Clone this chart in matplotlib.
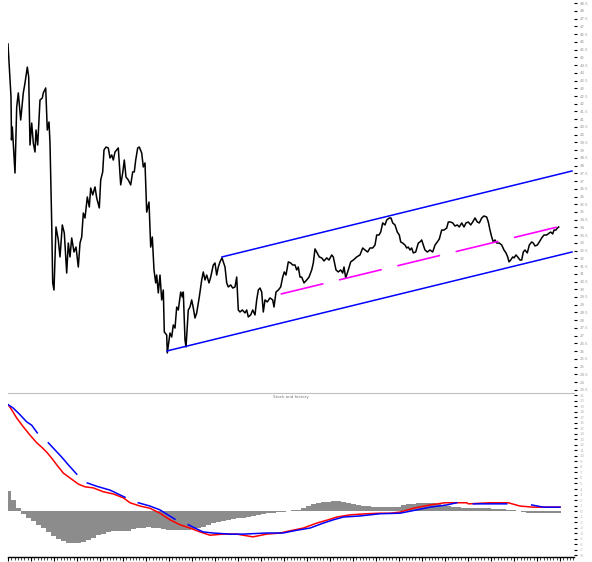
import numpy as np
import matplotlib.pyplot as plt
from matplotlib.ticker import MultipleLocator, FormatStrFormatter, NullFormatter

# Price series (trading day index, close)
price_day = [0, 3, 3.5, 4.3, 7, 8.7, 10.3, 12.7, 15.3, 17, 19.3, 20.7, 22, 23.7, 25.3, 27, 28, 29.7,
             32, 34.3, 35.3, 37.7, 39.3, 41, 42, 43.7, 44.7, 46, 48, 50.3, 52, 54.3, 56.3, 58.7, 60.3,
             62, 63.7, 66, 68, 70.3, 72, 73.7, 75.3, 77, 79.3, 81.3, 82.7, 84.7, 87, 88.7, 91.3, 92.7,
             94.7, 96, 98, 100.3, 102, 103.7, 105.3, 107, 108.7, 110.3, 112.7, 114.7, 116.3, 118,
             120.3, 122.7, 124.7, 126.3, 127.7, 129.7, 131.3, 133.7, 135.3, 137, 138.7, 141, 142.7,
             144.3, 146, 147.7, 148.7, 150.3, 152, 153.7, 155.3, 156.3, 158.7, 159.3, 162, 163.7,
             165.3, 167, 168.7, 170.3, 172.7, 174.3, 175.3, 177, 178, 180.3, 182, 183.7, 185.3, 187,
             188.7, 191.3, 193.7, 195.3, 197, 198.7, 201, 202.7, 205.3, 207, 208.7, 210.3, 212, 214,
             215.3, 217, 218.7, 220.3, 222.7, 224.7, 227, 228.7, 230.3, 232, 234.3, 237, 238.7, 240.3,
             242.7, 244.7, 247, 248.7, 250.3, 252, 253.7, 255.3, 257, 259.3, 262, 264.7, 266, 268,
             270.3, 272.7, 274.7, 276.3, 278, 280.3, 282.7, 284.7, 287, 288.7, 290.3, 292, 293.7, 296,
             298.7, 301, 303.7, 305.3, 307, 308.7, 311.3, 313.7, 316, 318.7, 321, 323.7, 325.3, 328,
             330.3, 332.7, 334.7, 336, 337.7, 340.3, 342.7, 345.3, 348.7, 352, 354.7, 357, 359.7, 362,
             364.7, 367, 368.7, 371, 372.7, 374.7, 377, 378.7, 381.3, 383, 384.7, 387, 389.3, 391.3,
             392.7, 394.7, 397, 398.7, 400.3, 402, 403.7, 405.3, 407.7, 410.3, 412, 413.7, 415.3, 417,
             419.3, 422, 424.7, 427, 429.3, 431.3, 433.7, 436, 438.7, 440.3, 442.7, 444.7, 447, 449.3,
             451.3, 453.7, 456, 458, 460.3, 462.7, 464.7, 467, 469.3, 471.3, 473.7, 476, 478.7, 480.3,
             482, 483.7, 485.3, 487, 488.7, 491.3, 493.7, 496, 498, 499.7, 501, 502.7, 504.7, 506, 508,
             509.7, 512, 513.7, 515.3, 517, 519.3, 521.3, 523.7, 525.3, 527, 529.3, 531.3, 533.7, 536,
             538.7, 541.3, 542.7, 544.7, 546, 548, 549.3, 550.7]
price_val = [45.87, 42.44, 39.66, 40.50, 37.52, 41.79, 42.70, 40.95, 42.70, 43.34, 44.37, 43.73, 39.33,
             40.75, 39.46, 38.88, 40.30, 39.33, 42.24, 42.37, 42.70, 43.02, 40.30, 40.82, 39.46, 34.29,
             30.41, 29.95, 34.03, 33.19, 32.09, 34.16, 33.64, 31.05, 32.99, 32.09, 33.32, 32.41, 32.73,
             31.44, 32.99, 33.38, 34.93, 34.61, 35.97, 35.32, 36.55, 36.10, 36.62, 35.90, 35.26, 37.07,
             37.59, 39.01, 39.20, 39.14, 38.49, 38.69, 38.36, 38.88, 39.01, 39.14, 36.75, 37.52, 38.36,
             37.26, 37.07, 36.75, 37.59, 37.59, 38.36, 39.14, 39.20, 38.81, 37.91, 38.17, 34.99, 35.64,
             32.73, 33.38, 31.25, 30.41, 30.92, 29.76, 30.92, 29.31, 29.95, 27.24, 27.04, 25.88, 27.17,
             26.91, 27.69, 27.49, 28.85, 28.66, 29.82, 29.50, 29.82, 26.72, 26.27, 28.66, 28.85, 29.31,
             28.79, 28.14, 28.47, 29.50, 30.60, 31.12, 30.60, 30.92, 30.41, 30.79, 31.57, 31.70, 30.92,
             31.44, 31.77, 32.03, 31.77, 31.44, 30.41, 30.15, 30.28, 30.08, 30.15, 30.79, 28.66, 28.53,
             28.66, 28.47, 28.66, 28.21, 28.34, 28.66, 28.34, 29.31, 29.95, 30.08, 29.82, 28.53, 29.31,
             29.18, 29.44, 29.31, 28.85, 29.82, 29.95, 30.15, 30.79, 31.12, 30.92, 31.77, 31.70, 31.57,
             31.57, 31.25, 31.44, 30.79, 30.79, 30.41, 30.60, 30.79, 31.25, 31.70, 32.61, 32.41, 32.09,
             32.03, 31.83, 32.03, 31.89, 32.22, 32.09, 31.25, 31.12, 31.25, 31.05, 31.44, 30.73, 31.25,
             31.77, 31.89, 32.09, 32.22, 32.67, 32.54, 32.41, 32.67, 32.67, 32.86, 33.51, 33.51, 33.70,
             34.29, 34.16, 34.48, 34.61, 34.61, 34.29, 34.16, 33.70, 33.51, 33.06, 32.99, 32.86, 32.67,
             32.73, 32.54, 32.67, 32.35, 32.41, 32.99, 33.06, 33.19, 32.86, 32.54, 32.41, 32.54, 32.41,
             32.86, 33.06, 33.25, 33.83, 33.83, 33.96, 34.35, 34.35, 34.29, 34.09, 34.16, 34.03, 34.29,
             34.03, 34.29, 34.35, 34.16, 34.35, 34.61, 34.35, 34.29, 34.61, 34.74, 34.67, 34.35, 33.83,
             33.38, 33.06, 33.19, 32.99, 32.99, 32.86, 32.54, 32.35, 32.09, 31.77, 31.89, 32.09, 32.03,
             32.22, 32.09, 31.89, 31.89, 32.41, 32.54, 32.35, 32.86, 33.06, 32.99, 32.80, 32.86, 33.06,
             33.32, 33.51, 33.51, 33.64, 33.70, 33.58, 33.83, 33.83, 33.96, 34.03]

# Trend channel and mid line (day, price)
lower_chan_day = [159, 564]
lower_chan_val = [26.01, 32.41]
upper_chan_day = [214, 564]
upper_chan_val = [32.09, 37.65]
mid_day = [272.7, 554.7]
mid_val = [29.69, 34.11]

# Oscillator histogram
hist_day = list(range(0, 553, 5))
hist_val = [3.6, 2.0, 0.5, -0.5, -1.3, -1.8, -2.5, -3.1, -3.8, -4.5, -5.1, -5.5, -5.8, -5.8, -5.8,
            -5.6, -5.3, -4.9, -4.4, -4.2, -3.8, -3.6, -3.6, -3.6, -3.6, -3.3, -3.1, -3.0, -2.9, -3.0,
            -3.1, -3.3, -3.5, -3.5, -3.5, -3.5, -3.4, -3.3, -3.1, -2.9, -2.5, -2.2, -2.0, -1.8, -1.6,
            -1.4, -1.3, -1.2, -1.1, -0.9, -0.7, -0.5, -0.4, -0.3, -0.2, -0.1, 0.0, 0.1, 0.2, 0.5, 0.9,
            1.2, 1.5, 1.6, 1.7, 1.8, 1.8, 1.6, 1.5, 1.3, 1.1, 1.0, 0.9, 0.8, 0.7, 0.7, 0.7, 0.7, 0.7,
            1.1, 1.2, 1.3, 1.4, 1.5, 1.5, 1.4, 1.3, 1.1, 0.9, 0.8, 0.7, 0.6, 0.6, 0.5, 0.5, 0.5, 0.5,
            0.4, 0.4, 0.3, 0.2, 0.1, 0.0, -0.2, -0.3, -0.3, -0.3, -0.3, -0.3, -0.3, -0.3]

# Slow line (red) and signal line (blue, broken)
red_day = [0.3, 3.7, 8.7, 15.3, 22, 28.7, 33.7, 38.7, 43.7, 48.7, 55.3, 62, 70.3, 77, 85.3, 95.3,
           105.3, 115.3, 122, 132, 142, 152, 162, 172, 182, 192, 202, 215, 228.7, 245, 258.7, 272,
           282, 295.3, 308.7, 322, 328.7, 342, 358.7, 372, 382, 392, 405.3, 422, 437, 458.7, 460.3,
           482, 500.3, 512, 525.3, 552]
red_val = [19.3, 18.4, 16.9, 15.3, 13.8, 12.4, 11.6, 10.7, 9.6, 8.4, 6.9, 6.0, 4.9, 4.4, 4.2, 3.5,
           3.1, 2.4, 1.5, 0.9, 0.5, -0.4, -1.6, -2.5, -3.1, -3.8, -4.4, -4.2, -4.2, -4.7, -4.2, -4.0,
           -3.6, -3.1, -2.2, -1.5, -1.1, -0.7, -0.5, -0.4, -0.4, -0.2, 0.5, 1.1, 1.5, 1.5, 1.3, 1.5,
           1.5, 0.9, 0.7, 0.7]
blue_day = [0.3, 5.3, 12, 18.7, 23.7, 29.3, np.nan,
            40.3, 47, 53.7, 60.3, 68.7, np.nan,
            79.3, 88.7, 102, 117, np.nan,
            130.3, 142, 152, 167, np.nan,
            180.3, 195, 205, 222, 235, 258.7, 275, 288.7, 302, 315.3, 325.3, 335.3, 352, 372, 392,
            408.7, 422, 438.7, 448.7, np.nan,
            465.3, 482, 498.7, np.nan,
            523.7, 535.3, 552]
blue_val = [19.3, 18.7, 17.5, 16.2, 15.6, 14.2, np.nan,
            12.4, 11.1, 9.8, 8.4, 6.7, np.nan,
            5.1, 4.5, 3.8, 2.5, np.nan,
            1.5, 0.9, 0.2, -1.5, np.nan,
            -2.5, -3.8, -4.0, -4.2, -4.2, -4.0, -4.0, -3.5, -3.1, -2.2, -1.6, -1.1, -0.9, -0.5, -0.4,
            0.2, 0.7, 1.1, 1.5, np.nan,
            1.3, 1.3, 1.3, np.nan,
            1.1, 0.7, 0.7]

fig = plt.figure(figsize=(5.92, 5.62), dpi=100)
ax = fig.add_axes([8 / 592, 169 / 562, 566 / 592, 393 / 562])
ax2 = fig.add_axes([8 / 592, 5 / 562, 566 / 592, 164 / 562], sharex=ax)

# price panel
ax.plot(price_day, price_val, color='black', lw=1.1)
ax.plot(lower_chan_day, lower_chan_val, color='#0000ff', lw=1.1)
ax.plot(upper_chan_day, upper_chan_val, color='#0000ff', lw=1.1)
ax.plot(mid_day, mid_val, color='#ff00ff', lw=1.2, linestyle=(0, (26.4, 9.6)))

ax.set_xlim(0, 566)
ax.set_ylim(23.29, 48.71)
for s in ax.spines.values():
    s.set_visible(False)
ax.yaxis.tick_right()
ax.yaxis.set_major_locator(MultipleLocator(0.5))
ax.yaxis.set_major_formatter(FormatStrFormatter('%g'))
ax.tick_params(axis='y', length=2, width=0.8, pad=2, labelsize=2.8, labelcolor='#999999')
ax.tick_params(axis='x', bottom=False, labelbottom=False)

# oscillator panel
ax2.bar(hist_day, hist_val, width=5.0, color='#8c8c8c', edgecolor='none', linewidth=0)
ax2.plot(red_day, red_val, color='#ff0000', lw=1.1)
ax2.plot(blue_day, blue_val, color='#0000ff', lw=1.1)
ax2.set_ylim(-8.36, 21.45)
for side in ['left', 'right']:
    ax2.spines[side].set_visible(False)
ax2.spines['top'].set_color('#c0c0c0')
ax2.spines['bottom'].set_linewidth(1.0)
ax2.yaxis.tick_right()
ax2.yaxis.set_major_locator(MultipleLocator(1))
ax2.yaxis.set_major_formatter(FormatStrFormatter('%g'))
ax2.tick_params(axis='y', length=2, width=0.8, pad=2, labelsize=2.8, labelcolor='#bbbbbb')
ax2.xaxis.set_major_locator(MultipleLocator(23))
ax2.xaxis.set_minor_locator(MultipleLocator(23 / 7))
ax2.xaxis.set_major_formatter(NullFormatter())
ax2.tick_params(axis='x', which='major', length=3, width=0.8, direction='out')
ax2.tick_params(axis='x', which='minor', length=2, width=0.5, direction='out')
ax2.text(0.5, 0.985, 'Stock and history', transform=ax2.transAxes, ha='center', va='top',
         fontsize=3, color='#777777')

fig.savefig('out.png', dpi=100)
